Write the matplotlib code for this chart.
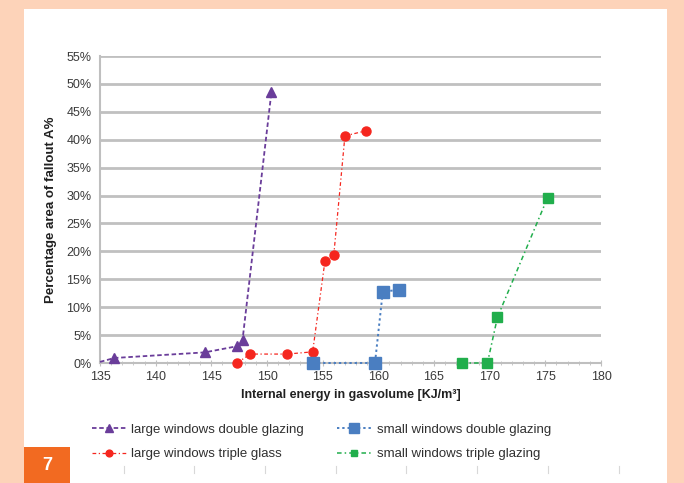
import numpy as np
import matplotlib.pyplot as plt
from matplotlib.patches import Rectangle
from matplotlib.ticker import MultipleLocator, FuncFormatter

plt.rcParams['font.family'] = ['Liberation Sans', 'DejaVu Sans']

# data
ldg_x = [135.0, 136.3, 144.4, 147.3, 147.8, 150.4]
ldg_y = [0.2, 0.9, 1.9, 3.0, 4.1, 48.6]
ltg_x = [147.3, 148.5, 151.8, 154.1, 155.2, 156.0, 157.0, 158.9]
ltg_y = [0.0, 1.6, 1.6, 2.0, 18.2, 19.4, 40.7, 41.6]
sdg_x = [154.1, 159.7, 160.4, 161.9]
sdg_y = [0.0, 0.0, 12.8, 13.1]
stg_x = [167.5, 169.8, 170.7, 175.2]
stg_y = [0.0, 0.0, 8.2, 29.6]

names = ['large windows double glazing', 'large windows triple glass',
         'small windows double glazing', 'small windows triple glazing']

fig = plt.figure(figsize=(6.84, 4.83), dpi=100)
fig.patch.set_facecolor('#FDD3B9')

# white panel and the orange number box
bg = fig.add_axes([24/684, 0, 643/684, 1 - 9/483], zorder=0)
bg.axis('off')
bg.add_patch(Rectangle((0, 0), 1, 1, transform=bg.transAxes, facecolor='white', edgecolor='none'))
bg.add_patch(Rectangle((0, 0), 46/643, 36/474, transform=bg.transAxes,
                       facecolor='#F26A21', edgecolor='none'))
bg.text(23/643, 18/474, '7', transform=bg.transAxes, color='white', fontsize=13,
        fontweight='bold', ha='center', va='center')
for tx in [124, 194, 265, 336, 406, 477, 548, 619]:
    bg.plot([(tx - 24)/643] * 2, [10/474, 17/474], transform=bg.transAxes,
            color='#D8D8D8', lw=0.8)

ax = fig.add_axes([100/684, 1 - 363/483, 501/684, 307/483], zorder=2)
ax.set_facecolor('white')

l1, = ax.plot(ldg_x, ldg_y, color='#6A3D9A', ls=(0, (2.5, 1.5)), lw=1.3,
              marker='^', ms=7, markevery=list(range(1, len(ldg_x))), zorder=4, clip_on=False)
l3, = ax.plot(ltg_x, ltg_y, color='#F5261E', ls=(0, (3, 2, 1, 2)), lw=0.9,
              marker='o', ms=6.5, zorder=4, clip_on=False)
l2, = ax.plot(sdg_x, sdg_y, color='#4A7EC1', ls=(0, (1.2, 1.5)), lw=1.4,
              marker='s', ms=9, zorder=4, clip_on=False)
l4, = ax.plot(stg_x, stg_y, color='#21AE4C', ls=(0, (3, 2, 1, 2)), lw=1.1,
              marker='s', ms=6.5, zorder=4, clip_on=False)

ax.set_xlim(135, 180)
ax.set_ylim(0, 55)
ax.xaxis.set_major_locator(MultipleLocator(5))
ax.xaxis.set_minor_locator(MultipleLocator(1))
ax.yaxis.set_major_locator(MultipleLocator(5))
ax.yaxis.set_major_formatter(FuncFormatter(lambda v, p: '%d%%' % v))
ax.grid(axis='y', color='#C0C0C0', lw=2)
ax.set_axisbelow(True)
for s in ['top', 'right']:
    ax.spines[s].set_visible(False)
ax.spines['left'].set_color('#BFBFBF')
ax.spines['left'].set_linewidth(1.5)
ax.spines['bottom'].set_color('#BFBFBF')
ax.spines['bottom'].set_linewidth(1.5)
ax.tick_params(axis='both', labelsize=9, colors='#3A3A3A', length=0, pad=6)
ax.tick_params(axis='x', which='major', length=4, color='#BFBFBF', direction='inout', pad=4)
ax.tick_params(axis='x', which='minor', length=3, color='#BFBFBF', direction='inout')

ax.set_xlabel('Internal energy in gasvolume [KJ/m³]', fontsize=9, fontweight='bold',
              color='#202020', labelpad=4)
ax.set_ylabel('Percentage area of fallout A%', fontsize=9.5, fontweight='bold',
              color='#202020', labelpad=7)

fig.legend([l1, l3, l2, l4], names, loc='upper left', ncol=2,
           bbox_to_anchor=(80/684, 1 - 412/483), frameon=False, fontsize=9.5,
           columnspacing=2.5, handlelength=2.6, handletextpad=0.4,
           labelspacing=0.9, markerscale=0.75, labelcolor='#303030')

fig.savefig('out.png', dpi=100, facecolor=fig.get_facecolor())
